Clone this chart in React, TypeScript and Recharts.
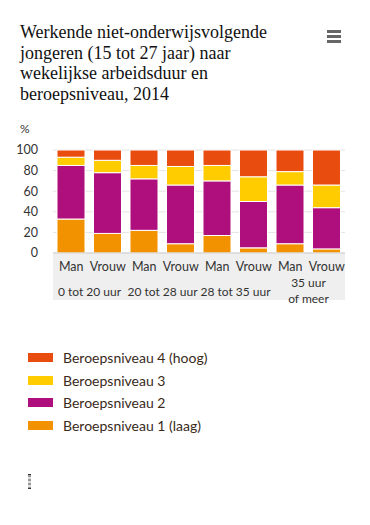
import React from 'react';
import { BarChart, Bar, XAxis, YAxis, CartesianGrid } from 'recharts';

const sexes = ['Man', 'Vrouw', 'Man', 'Vrouw', 'Man', 'Vrouw', 'Man', 'Vrouw'];
const groups = [['0 tot 20 uur'], ['20 tot 28 uur'], ['28 tot 35 uur'], ['35 uur', 'of meer']];
const niveau1 = [33, 19, 22, 9, 17, 5, 9, 4];
const niveau2 = [52, 59, 50, 57, 53, 45, 57, 40];
const niveau3 = [8, 12, 13, 18, 15, 24, 13, 22];
const niveau4 = [7, 10, 15, 16, 15, 26, 21, 34];
const yTicks = [0, 20, 40, 60, 80, 100];

const series = [
  { key: 'n4', name: 'Beroepsniveau 4 (hoog)', color: '#e84c0e' },
  { key: 'n3', name: 'Beroepsniveau 3', color: '#ffcc00' },
  { key: 'n2', name: 'Beroepsniveau 2', color: '#ae0f7d' },
  { key: 'n1', name: 'Beroepsniveau 1 (laag)', color: '#f39200' },
];

const data = sexes.map((s, i) => ({
  id: i,
  sex: s,
  n1: niveau1[i],
  n2: niveau2[i],
  n3: niveau3[i],
  n4: niveau4[i],
}));

const font = 'Lato, "Open Sans", sans-serif';

function SexTick(props: any) {
  const { x, y, payload, index } = props;
  const step = 36.5;
  const g = groups[Math.floor(index / 2)];
  return (
    <g>
      <text x={x} y={y + 10} textAnchor="middle" fontSize={12.5} fill="#333" fontFamily={font}>
        {sexes[payload.value]}
      </text>
      {index % 2 === 0 &&
        g.map((line, j) => (
          <text
            key={j}
            x={x + step / 2}
            y={g.length > 1 ? y + 26 + j * 16 : y + 35}
            textAnchor="middle"
            fontSize={12}
            fill="#333"
            fontFamily={font}
          >
            {line}
          </text>
        ))}
    </g>
  );
}

export default function App() {
  return (
    <div style={{ position: 'absolute', left: 0, top: 0, width: 370, height: 525, background: '#fff' }}>
      <div
        style={{
          position: 'absolute',
          left: 20,
          top: 22,
          fontFamily: '"Liberation Serif", serif',
          fontSize: 18,
          lineHeight: '20.5px',
          color: '#111',
        }}
      >
        Werkende niet-onderwijsvolgende
        <br />
        jongeren (15 tot 27 jaar) naar
        <br />
        wekelijkse arbeidsduur en
        <br />
        beroepsniveau, 2014
      </div>
      <div style={{ position: 'absolute', left: 327, top: 30, width: 14 }}>
        {[0, 1, 2].map((i) => (
          <div key={i} style={{ height: 2.5, background: '#666', marginBottom: 2.5 }} />
        ))}
      </div>
      <div style={{ position: 'absolute', left: 53, top: 253, width: 292, height: 47, background: '#efefef' }} />
      <div style={{ position: 'absolute', left: 20, top: 121, fontFamily: font, fontSize: 12, color: '#333' }}>%</div>
      <div style={{ position: 'absolute', left: 0, top: 0 }}>
        <BarChart width={370} height={312} data={data} margin={{ top: 150, right: 25, left: 0, bottom: 12 }} barSize={28}>
          <CartesianGrid vertical={false} stroke="#e4e4e4" />
          <XAxis
            dataKey="id"
            height={47}
            axisLine={{ stroke: '#cfcfcf' }}
            tickLine={false}
            tick={<SexTick />}
            interval={0}
          />
          <YAxis
            width={53}
            domain={[0, 100]}
            ticks={yTicks}
            interval={0}
            axisLine={false}
            tickLine={false}
            tickMargin={9}
            tick={{ fontSize: 12.5, fill: '#333', fontFamily: font }}
          />
          {[...series].reverse().map((s) => (
            <Bar
              key={s.key}
              dataKey={s.key}
              stackId="a"
              fill={s.color}
              stroke="#fff"
              strokeWidth={1}
              isAnimationActive={false}
            />
          ))}
        </BarChart>
      </div>
      <div style={{ position: 'absolute', left: 28, top: 346 }}>
        {series.map((s) => (
          <div key={s.key} style={{ display: 'flex', alignItems: 'center', height: 22.7 }}>
            <div style={{ width: 25, height: 9, background: s.color, marginRight: 10 }} />
            <span style={{ fontFamily: font, fontSize: 14, color: '#3a2a1a' }}>{s.name}</span>
          </div>
        ))}
      </div>
      <div style={{ position: 'absolute', left: 28, top: 474, width: 3, height: 13, borderTop: '1px solid #333', borderBottom: '1px solid #333', background: 'repeating-linear-gradient(#999 0 2px, #ddd 2px 4px)' }} />
    </div>
  );
}
